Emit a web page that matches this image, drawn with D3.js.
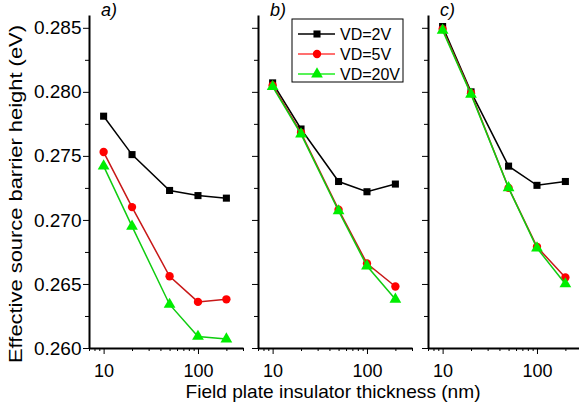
<!DOCTYPE html>
<html>
<head>
<meta charset="utf-8">
<script src="https://cdn.jsdelivr.net/npm/d3@7"></script>
<style>
  body { margin: 0; background: #fff; }
  svg { font-family: "Liberation Sans", Arial, sans-serif; }
  .axis path, .axis line { stroke: #000; }
</style>
</head>
<body>
<script>
// thickness values (nm), log axis
var thickness = [10, 20, 50, 100, 200];
var panels = ["a)", "b)", "c)"];
var seriesNames = ["VD=2V", "VD=5V", "VD=20V"];

// barrier height (eV) per panel, per drain voltage
var panelA_2V  = [0.2781, 0.2751, 0.2723, 0.2719, 0.2717];
var panelA_5V  = [0.2753, 0.2710, 0.2656, 0.2636, 0.2638];
var panelA_20V = [0.2742, 0.2695, 0.2634, 0.2609, 0.2607];

var panelB_2V  = [0.2807, 0.2771, 0.2730, 0.2722, 0.2728];
var panelB_5V  = [0.2805, 0.2768, 0.2708, 0.2666, 0.2648];
var panelB_20V = [0.2804, 0.2767, 0.2707, 0.2664, 0.2638];

var panelC_2V  = [0.2851, 0.2800, 0.2742, 0.2727, 0.2730];
var panelC_5V  = [0.2849, 0.2799, 0.2725, 0.2679, 0.2655];
var panelC_20V = [0.2848, 0.2798, 0.2725, 0.2678, 0.2650];

var yMajor = [0.260, 0.265, 0.270, 0.275, 0.280, 0.285];
var yMinor = [0.2625, 0.2675, 0.2725, 0.2775, 0.2825];
var xMajor = [10, 100];
var xMinor = [7, 8, 9, 20, 30, 40, 50, 60, 70, 80, 90, 200, 300];

var panelData = [
  [panelA_2V, panelA_5V, panelA_20V],
  [panelB_2V, panelB_5V, panelB_20V],
  [panelC_2V, panelC_5V, panelC_20V]
];

var lineColors = ["#000000", "#c81818", "#10cc10"];
var markColors = ["#000000", "#ff0000", "#00ee00"];
var symbols = [d3.symbolSquare, d3.symbolCircle, d3.symbolTriangle];
var symSizes = [50, 55, 60];

var W = 579, H = 405;
var plotTop = 15, plotBottom = 348;
var panelLeft = [89, 258, 428];
var panelW = 154;

var svg = d3.select("body").append("svg")
    .attr("width", W)
    .attr("height", H);

var y = d3.scaleLinear().domain([0.260, 0.286]).range([plotBottom, plotTop]);

panelData.forEach(function(series, p) {
  var x0 = panelLeft[p];
  var x = d3.scaleLog().domain([7, 300]).range([x0, x0 + panelW]);

  var g = svg.append("g");

  // x axis: minor ticks, then major ticks with labels
  g.append("g").attr("class", "axis")
      .attr("transform", "translate(0," + plotBottom + ")")
      .call(d3.axisBottom(x).tickValues(xMinor).tickSize(3).tickSizeOuter(0).tickFormat(""))
      .call(function(s) { s.select(".domain").attr("stroke-width", 2); });
  g.append("g").attr("class", "axis")
      .attr("transform", "translate(0," + plotBottom + ")")
      .call(d3.axisBottom(x).tickValues(xMajor).tickSize(6).tickSizeOuter(0).tickFormat(d3.format("d")))
      .call(function(s) {
        s.select(".domain").remove();
        s.selectAll("text").attr("font-size", "18px").attr("fill", "#000").attr("dy", "1.11em");
      });

  // y axis
  g.append("g").attr("class", "axis")
      .attr("transform", "translate(" + x0 + ",0)")
      .call(d3.axisLeft(y).tickValues(yMinor).tickSize(4).tickSizeOuter(0).tickFormat(""))
      .call(function(s) { s.select(".domain").attr("stroke-width", 2); });
  g.append("g").attr("class", "axis")
      .attr("transform", "translate(" + x0 + ",0)")
      .call(d3.axisLeft(y).tickValues(yMajor).tickSize(6).tickPadding(1.5).tickSizeOuter(0)
            .tickFormat(p === 0 ? d3.format(".3f") : ""))
      .call(function(s) {
        s.select(".domain").remove();
        s.selectAll("text").attr("font-size", "19px").attr("fill", "#000");
      });

  // panel label
  g.append("text")
      .attr("x", x0 + 12)
      .attr("y", 16)
      .attr("font-size", "18px")
      .attr("font-style", "italic")
      .text(panels[p]);

  var line = d3.line()
      .x(function(d, i) { return x(thickness[i]); })
      .y(function(d) { return y(d); });

  // draw in order 2V, 5V, 20V so green sits on top
  series.forEach(function(vals, s) {
    g.append("path")
        .attr("d", line(vals))
        .attr("fill", "none")
        .attr("stroke", lineColors[s])
        .attr("stroke-width", 1.5);
    g.selectAll(".m" + s)
      .data(vals)
      .enter().append("path")
        .attr("transform", function(d, i) { return "translate(" + x(thickness[i]) + "," + y(d) + ")"; })
        .attr("d", d3.symbol().type(symbols[s]).size(symSizes[s]))
        .attr("fill", markColors[s]);
  });
});

// legend
var lg = svg.append("g").attr("transform", "translate(292,19)");
lg.append("rect")
    .attr("width", 111).attr("height", 63)
    .attr("fill", "#fff").attr("stroke", "#000").attr("stroke-width", 1);
seriesNames.forEach(function(name, s) {
  var ly = 15 + s * 20;
  lg.append("line")
      .attr("x1", 6).attr("x2", 43).attr("y1", ly).attr("y2", ly)
      .attr("stroke", s === 0 ? "#000" : (s === 1 ? "#ff4040" : "#20ee20"))
      .attr("stroke-width", 1.5);
  lg.append("path")
      .attr("transform", "translate(25," + ly + ")")
      .attr("d", d3.symbol().type(symbols[s]).size(symSizes[s]))
      .attr("fill", markColors[s]);
  lg.append("text")
      .attr("x", 48).attr("y", ly + 6)
      .attr("font-size", "16px")
      .text(name);
});

// axis titles
svg.append("text")
    .attr("x", 333)
    .attr("y", 398)
    .attr("text-anchor", "middle")
    .attr("font-size", "18.5px")
    .attr("textLength", 295)
    .attr("lengthAdjust", "spacingAndGlyphs")
    .text("Field plate insulator thickness (nm)");

svg.append("text")
    .attr("transform", "translate(22,194) rotate(-90)")
    .attr("text-anchor", "middle")
    .attr("font-size", "18px")
    .attr("textLength", 338)
    .attr("lengthAdjust", "spacingAndGlyphs")
    .text("Effective source barrier height (eV)");
</script>
</body>
</html>
